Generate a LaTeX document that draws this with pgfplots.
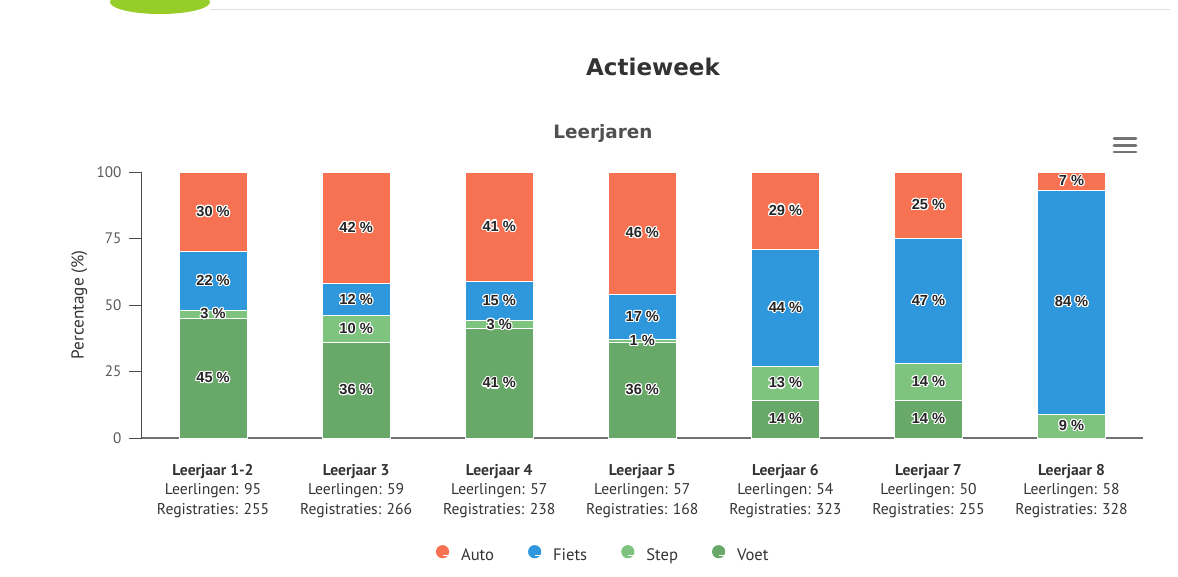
\documentclass[border=0pt]{standalone}
\usepackage{pgfplots}
\pgfplotsset{compat=1.18}
\usepackage{fontspec}
\setmainfont{PT Sans}
\newfontfamily\verdana{DejaVu Sans}
\newfontfamily\arial{Liberation Sans}
\usepackage{contour}
\contourlength{0.55pt}
\definecolor{cauto}{RGB}{246,114,82}
\definecolor{cfiets}{RGB}{47,152,221}
\definecolor{cstep}{RGB}{126,196,126}
\definecolor{cvoet}{RGB}{104,168,104}
\definecolor{ctitle}{RGB}{51,51,51}
\definecolor{csub}{RGB}{80,80,80}
\definecolor{clogo}{RGB}{150,205,40}
\begin{document}
\begin{tikzpicture}
\path[use as bounding box] (0,0) rectangle (589pt,-288.5pt);
\begin{scope}
\clip (0,0) rectangle (589pt,-288.5pt);
\fill[clogo] (80pt,-1pt) ellipse (25pt and 6pt);
\draw[black!12, line width=0.5pt] (105pt,-5pt) -- (585pt,-5pt);
\end{scope}
\node[font=\verdana\bfseries\fontsize{11.5}{13}\selectfont, text=ctitle] at (326.5pt,-33.5pt) {Actieweek};
\node[font=\verdana\bfseries\fontsize{9.2}{11}\selectfont, text=csub] at (301.5pt,-66.5pt) {Leerjaren};
\foreach \yy in {-69.2pt,-72.6pt,-76pt}
  \draw[black!55, line width=1.4pt, line cap=round] (557pt,\yy) -- (568pt,\yy);
\begin{axis}[
  at={(70.75pt,-219pt)}, anchor=south west,
  scale only axis, width=500.8pt, height=133pt,
  ybar stacked, bar width=0.475,
  xmin=-0.5, xmax=6.5, ymin=0, ymax=100,
  enlarge x limits=false, enlarge y limits=false,
  axis x line*=bottom, axis y line*=left,
  x axis line style={draw=black!55, line width=0.9pt, -},
  y axis line style={draw=black!70, line width=0.5pt, -},
  /pgf/number format/assume math mode=true,
  xtick={0,...,6},
  xticklabels={
    {\textbf{Leerjaar 1-2}\\Leerlingen: 95\\Registraties: 255},
    {\textbf{Leerjaar 3}\\Leerlingen: 59\\Registraties: 266},
    {\textbf{Leerjaar 4}\\Leerlingen: 57\\Registraties: 238},
    {\textbf{Leerjaar 5}\\Leerlingen: 57\\Registraties: 168},
    {\textbf{Leerjaar 6}\\Leerlingen: 54\\Registraties: 323},
    {\textbf{Leerjaar 7}\\Leerlingen: 50\\Registraties: 255},
    {\textbf{Leerjaar 8}\\Leerlingen: 58\\Registraties: 328}},
  xticklabel style={align=center, font=\fontsize{7.8}{9.8}\selectfont, text=ctitle, yshift=-3pt},
  x tick style={draw=none},
  ytick={0,25,50,75,100},
  tick align=outside,
  major tick length=6.5pt,
  y tick style={draw=black!70, line width=0.5pt},
  yticklabel style={font=\fontsize{7.6}{8}\selectfont, text=black!65},
  ylabel={Percentage (\%)},
  ylabel style={at={(axis description cs:-0.062,0.5)}, anchor=center, font=\fontsize{8.6}{9}\selectfont, text=ctitle},
  every axis plot/.append style={draw=white, line width=0.5pt},
  visualization depends on={rawy \as \rawy},
  nodes near coords={\pgfmathtruncatemacro\lbl{\rawy}\ifnum\lbl>0 \contour{white}{\lbl{} \%}\fi},
  every node near coord/.append style={anchor=center, font=\arial\bfseries\fontsize{7.3}{8}\selectfont, text=black!85, inner sep=0pt},
  legend style={at={(0.462,-0.4425)}, anchor=center, draw=none, fill=none, legend columns=4,
    font=\fontsize{8.3}{9}\selectfont, text=ctitle,
    /tikz/every even column/.append style={column sep=15pt}},
  legend image code/.code={\fill[#1, draw=none] (0pt,0.2em) circle (3.3pt); \path (0pt,0pt) -- (7pt,0pt);},
  reverse legend,
]
\addplot[fill=cvoet] coordinates {(0,45) (1,36) (2,41) (3,36) (4,14) (5,14) (6,0)};
\addplot[fill=cstep] coordinates {(0,3) (1,10) (2,3) (3,1) (4,13) (5,14) (6,9)};
\addplot[fill=cfiets] coordinates {(0,22) (1,12) (2,15) (3,17) (4,44) (5,47) (6,84)};
\addplot[fill=cauto] coordinates {(0,30) (1,42) (2,41) (3,46) (4,29) (5,25) (6,7)};
\legend{Voet,Step,Fiets,Auto}
\end{axis}
\end{tikzpicture}
\end{document}
